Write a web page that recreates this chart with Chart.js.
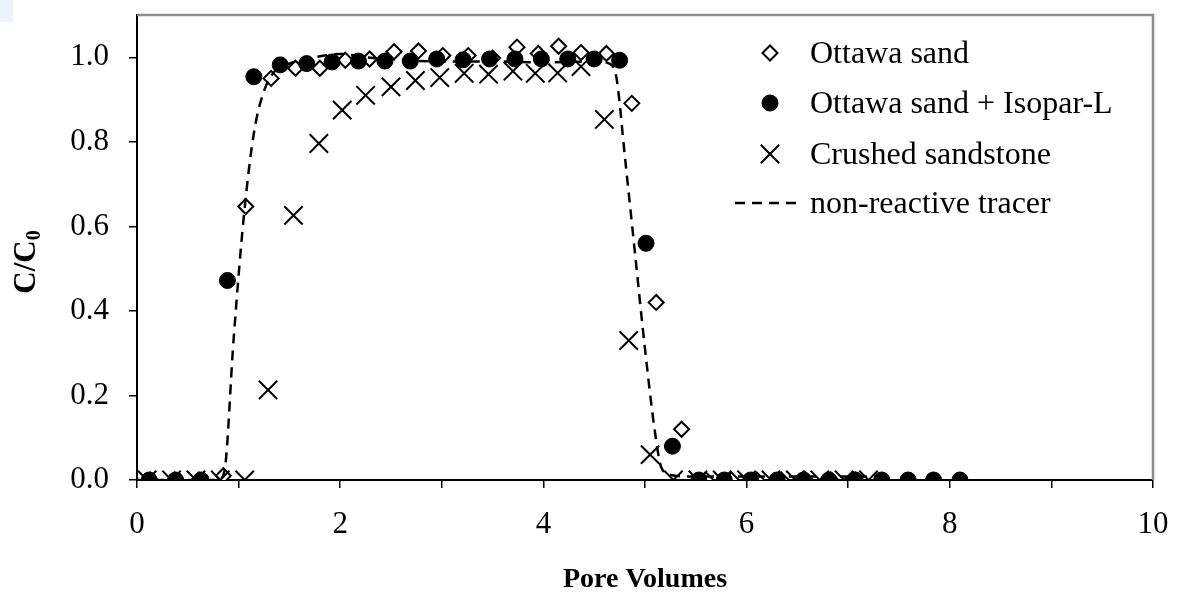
<!DOCTYPE html>
<html><head><meta charset="utf-8">
<script src="https://cdn.jsdelivr.net/npm/chart.js@4.4.1/dist/chart.umd.min.js"></script>
<style>html,body{margin:0;padding:0;background:#fff;}#wrap{width:1186px;height:605px;position:relative;}</style>
</head><body><div id="wrap"><canvas id="c" width="1186" height="605"></canvas></div>
<script>
// ---- data ----
const seriesNames = ['Ottawa sand', 'Ottawa sand + Isopar-L', 'Crushed sandstone', 'non-reactive tracer'];
const xTickLabels = [0, 2, 4, 6, 8, 10];
const yTickLabels = [0, 0.2, 0.4, 0.6, 0.8, 1.0];

const ottawaX = [0.13,0.37,0.61,0.85,1.07,1.32,1.56,1.80,2.05,2.29,2.53,2.77,3.01,3.26,3.50,3.74,3.95,4.15,4.37,4.62,4.87,5.11,5.36,5.60,5.85,6.10,6.34,6.58,6.83,7.07];
const ottawaY = [0,0,0,0.01,0.647,0.95,0.974,0.974,0.993,0.996,1.013,1.015,1.004,1.004,0.998,1.024,1.009,1.026,1.011,1.009,0.891,0.42,0.12,0,0,0,0,0,0,0];

const isoparX = [0.12,0.38,0.63,0.89,1.15,1.41,1.67,1.92,2.18,2.44,2.69,2.95,3.21,3.47,3.72,3.98,4.24,4.50,4.75,5.01,5.27,5.53,5.78,6.04,6.30,6.56,6.81,7.07,7.33,7.59,7.84,8.10];
const isoparY = [0,0,0,0.472,0.954,0.982,0.985,0.989,0.991,0.991,0.991,0.996,0.994,0.996,0.996,0.996,0.996,0.996,0.993,0.56,0.08,0,0,0,0,0,0,0,0,0,0,0];

const crushedX = [0.10,0.34,0.58,0.82,1.06,1.29,1.54,1.79,2.02,2.25,2.50,2.74,2.98,3.22,3.46,3.70,3.92,4.14,4.37,4.60,4.84,5.05,5.28,5.52,5.76,6.00,6.24,6.48,6.72,6.96,7.20];
const crushedY = [0,0,0,0,0,0.213,0.626,0.796,0.875,0.91,0.93,0.945,0.952,0.962,0.96,0.967,0.962,0.963,0.978,0.853,0.33,0.06,0,0,0,0,0,0,0,0,0];

const tracerX = [0,0.4,0.8,0.86,0.95,1.05,1.15,1.25,1.35,1.5,1.75,2.0,2.25,2.5,3.0,3.5,4.0,4.5,4.65,4.72,4.8,4.9,5.0,5.1,5.16,5.25,5.5,6.0,6.5,7.0,7.3];
const tracerY = [0,0,0,0.02,0.33,0.62,0.82,0.92,0.965,0.985,1.0,1.008,1.0,0.995,0.99,0.99,0.988,0.99,0.985,0.95,0.77,0.54,0.31,0.11,0.03,0.012,0.008,0.008,0.008,0.008,0.008];

const pts = (xs, ys) => xs.map((x, i) => ({x: x, y: ys[i]}));

const SERIF = "'Liberation Serif', 'Times New Roman', serif";

const styles = [
  {pointStyle: 'rectRot', radius: 7.5, borderWidth: 2, borderColor: '#000', backgroundColor: '#fff'},
  {pointStyle: 'circle', radius: 8, borderWidth: 1, borderColor: '#000', backgroundColor: '#000'},
  {pointStyle: 'crossRot', radius: 13, borderWidth: 2, borderColor: '#000', backgroundColor: '#000'}
];

const framePlugin = {
  id: 'frame',
  beforeDraw(chart) {
    const ctx = chart.ctx;
    ctx.save();
    ctx.fillStyle = '#eef2fb';
    ctx.fillRect(0, 0, 13, 22);
    ctx.restore();
  },
  afterDraw(chart) {
    const ctx = chart.ctx, a = chart.chartArea;
    ctx.save();
    ctx.strokeStyle = '#8c8c8c';
    ctx.lineWidth = 2.5;
    ctx.beginPath();
    ctx.moveTo(a.left, a.top); ctx.lineTo(a.right, a.top); ctx.lineTo(a.right, a.bottom);
    ctx.stroke();
    // axis titles
    ctx.fillStyle = '#000';
    ctx.font = "bold 28px " + SERIF;
    ctx.textAlign = 'center'; ctx.textBaseline = 'middle';
    ctx.fillText('Pore Volumes', (a.left + a.right) / 2, 580);
    ctx.translate(24, 262);
    ctx.rotate(-Math.PI / 2);
    const main = 'C/C';
    ctx.font = "bold 31px " + SERIF;
    const w1 = ctx.measureText(main).width;
    ctx.font = "bold 20px " + SERIF;
    const w2 = ctx.measureText('0').width;
    const start = -(w1 + w2) / 2;
    ctx.textAlign = 'left'; ctx.textBaseline = 'alphabetic';
    ctx.font = "bold 31px " + SERIF;
    ctx.fillText(main, start, 11);
    ctx.font = "bold 20px " + SERIF;
    ctx.fillText('0', start + w1, 16);
    ctx.restore();

    // legend
    ctx.save();
    const lx = 770, tx = 810, rows = [53, 103, 154, 203];
    ctx.font = "32px " + SERIF;
    ctx.fillStyle = '#000';
    ctx.textAlign = 'left'; ctx.textBaseline = 'middle';
    for (let i = 0; i < 3; i++) {
      const s = styles[i];
      ctx.strokeStyle = s.borderColor; ctx.fillStyle = s.backgroundColor; ctx.lineWidth = s.borderWidth;
      Chart.helpers.drawPoint(ctx, {pointStyle: s.pointStyle, radius: s.radius, rotation: 0, borderWidth: s.borderWidth}, lx, rows[i]);
      ctx.fillStyle = '#000';
      ctx.fillText(seriesNames[i], tx, rows[i] + 2);
    }
    ctx.strokeStyle = '#000'; ctx.lineWidth = 2.5; ctx.setLineDash([10, 7]);
    ctx.beginPath(); ctx.moveTo(735, rows[3]); ctx.lineTo(802, rows[3]); ctx.stroke();
    ctx.setLineDash([]);
    ctx.fillText(seriesNames[3], tx, rows[3] + 2);
    ctx.restore();
  }
};

new Chart(document.getElementById('c'), {
  type: 'scatter',
  data: {
    datasets: [
      {label: seriesNames[0], data: pts(ottawaX, ottawaY), pointStyle: 'rectRot', pointRadius: styles[0].radius, pointHoverRadius: styles[0].radius,
        pointBorderWidth: styles[0].borderWidth, borderColor: '#000', backgroundColor: '#fff', order: 4},
      {label: seriesNames[1], data: pts(isoparX, isoparY), pointStyle: 'circle', pointRadius: styles[1].radius, pointBorderWidth: 1,
        borderColor: '#000', backgroundColor: '#000', order: 1},
      {label: seriesNames[2], data: pts(crushedX, crushedY), pointStyle: 'crossRot', pointRadius: styles[2].radius, pointBorderWidth: 2,
        borderColor: '#000', backgroundColor: '#000', order: 2},
      {label: seriesNames[3], data: pts(tracerX, tracerY), showLine: true, pointRadius: 0, borderColor: '#000', borderWidth: 2.5,
        borderDash: [10, 7], cubicInterpolationMode: 'monotone', order: 3}
    ]
  },
  options: {
    responsive: false,
    animation: false,
    events: [],
    layout: {padding: {left: 0, top: 10, right: 33, bottom: 0}},
    plugins: {legend: {display: false}, tooltip: {enabled: false}},
    scales: {
      x: {
        type: 'linear', min: 0, max: 10,
        afterFit: s => { s.height = 125; s.paddingLeft = 0; s.paddingRight = 0; },
        ticks: {stepSize: 1, autoSkip: false, maxRotation: 0, color: '#000', padding: 18,
          font: {family: SERIF, size: 31},
          callback: v => xTickLabels.includes(v) ? String(v) : ''},
        grid: {drawOnChartArea: false, drawTicks: true, tickLength: 8, color: '#000', lineWidth: 1.5},
        border: {color: '#000', width: 2}
      },
      y: {
        type: 'linear', min: 0, max: 1.1,
        afterFit: s => { s.width = 137; s.paddingTop = 0; s.paddingBottom = 0; },
        ticks: {stepSize: 0.2, includeBounds: false, color: '#000', padding: 20,
          font: {family: SERIF, size: 31},
          callback: v => yTickLabels.some(t => Math.abs(t - v) < 1e-6) ? v.toFixed(1) : ''},
        grid: {drawOnChartArea: false, drawTicks: true, tickLength: 8, color: '#000', lineWidth: 1.5},
        border: {color: '#000', width: 2}
      }
    }
  },
  plugins: [framePlugin]
});
</script>
</body></html>
